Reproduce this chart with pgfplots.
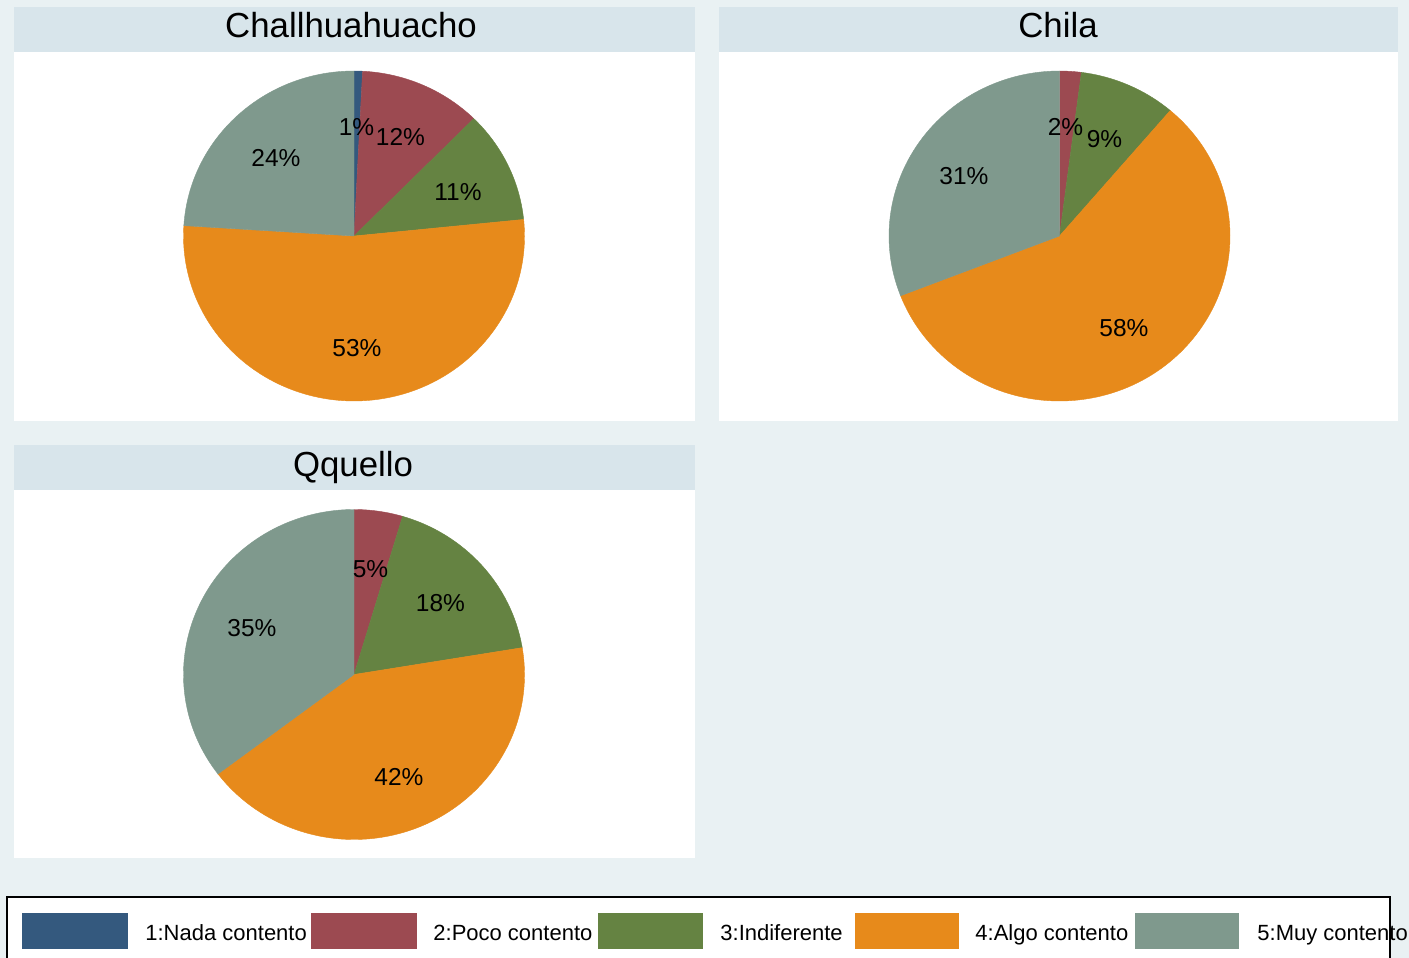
\documentclass[border=0pt]{standalone}
\usepackage{pgfplots}
\pgfplotsset{compat=1.18}
\usepackage{fontspec}
\setmainfont{Liberation Sans}

\definecolor{nada}{RGB}{52,89,126}
\definecolor{poco}{RGB}{156,74,81}
\definecolor{indif}{RGB}{101,131,66}
\definecolor{algo}{RGB}{231,138,27}
\definecolor{muy}{RGB}{127,153,141}
\definecolor{bg}{RGB}{233,241,243}
\definecolor{band}{RGB}{216,229,235}

% one slice: centre x, centre y, cumulative % at start, cumulative % at end, colour
\newcommand\slice[5]{%
  \fill[#5, draw=#5, line width=0.2pt] (axis cs:#1,#2) -- ++({90-3.6*(#3)}:85.25pt and 82.5pt)
    arc[start angle={90-3.6*(#3)}, end angle={90-3.6*(#4)}, x radius=85.25pt, y radius=82.5pt] -- cycle;}
\newcommand\lab[3]{\node[font=\fontsize{12.25}{14}\selectfont, inner sep=0pt] at (axis cs:#1,#2) {#3};}

\begin{document}
\begin{tikzpicture}
\begin{axis}[
    x=0.5pt, y=0.5pt, y dir=reverse,
    xmin=0, xmax=1409, ymin=0, ymax=958,
    scale only axis, hide axis, clip=false]

% background and panels
\fill[bg] (axis cs:0,0) rectangle (axis cs:1409,958);
\fill[band] (axis cs:14,7) rectangle (axis cs:695,52);
\fill[white] (axis cs:14,52) rectangle (axis cs:695,421);
\fill[band] (axis cs:719,7) rectangle (axis cs:1398,52);
\fill[white] (axis cs:719,52) rectangle (axis cs:1398,421);
\fill[band] (axis cs:14,445) rectangle (axis cs:695,490);
\fill[white] (axis cs:14,490) rectangle (axis cs:695,858);

\node[font=\fontsize{17.4}{20}\selectfont, anchor=base] at (axis cs:351,38) {Challhuahuacho};
\node[font=\fontsize{17.4}{20}\selectfont, anchor=base] at (axis cs:1058,38) {Chila};
\node[font=\fontsize{17.4}{20}\selectfont, anchor=base] at (axis cs:353,476) {Qquello};

% Challhuahuacho: 0.8, 11.6, 11.0, 52.6, 24.0
\slice{354}{236}{0}{0.8}{nada}
\slice{354}{236}{0.8}{12.4}{poco}
\slice{354}{236}{12.4}{23.4}{indif}
\slice{354}{236}{23.4}{76.0}{algo}
\slice{354}{236}{76.0}{100}{muy}
\lab{356.5}{127.5}{1\%}
\lab{400.5}{137}{12\%}
\lab{458}{192}{11\%}
\lab{357}{348}{53\%}
\lab{276}{158}{24\%}

% Chila: 0, 2.05, 9.2, 57.85, 30.9
\slice{1059.5}{236}{0}{2.05}{poco}
\slice{1059.5}{236}{2.05}{11.25}{indif}
\slice{1059.5}{236}{11.25}{69.1}{algo}
\slice{1059.5}{236}{69.1}{100}{muy}
\lab{1065.5}{127.5}{2\%}
\lab{1104.5}{139}{9\%}
\lab{1124}{328}{58\%}
\lab{964}{176}{31\%}

% Qquello: 0, 4.6, 17.8, 42.3, 35.3
\slice{354}{674.5}{0}{4.6}{poco}
\slice{354}{674.5}{4.6}{22.4}{indif}
\slice{354}{674.5}{22.4}{64.7}{algo}
\slice{354}{674.5}{64.7}{100}{muy}
\lab{370.5}{569.5}{5\%}
\lab{440.5}{603.5}{18\%}
\lab{399}{777}{42\%}
\lab{252}{628}{35\%}

% legend
\draw[black, line width=1pt, fill=white] (axis cs:7,897) rectangle (axis cs:1390,970);
\fill[nada] (axis cs:22,913) rectangle (axis cs:128,949);
\fill[poco] (axis cs:311,913) rectangle (axis cs:417,949);
\fill[indif] (axis cs:598,913) rectangle (axis cs:703,949);
\fill[algo] (axis cs:855,913) rectangle (axis cs:959,949);
\fill[muy] (axis cs:1135,913) rectangle (axis cs:1239,949);
\node[font=\fontsize{11}{13}\selectfont, anchor=base west, inner sep=0pt] at (axis cs:145,940) {1:Nada contento};
\node[font=\fontsize{11}{13}\selectfont, anchor=base west, inner sep=0pt] at (axis cs:433,940) {2:Poco contento};
\node[font=\fontsize{11}{13}\selectfont, anchor=base west, inner sep=0pt] at (axis cs:720,940) {3:Indiferente};
\node[font=\fontsize{11}{13}\selectfont, anchor=base west, inner sep=0pt] at (axis cs:975,940) {4:Algo contento};
\node[font=\fontsize{11}{13}\selectfont, anchor=base west, inner sep=0pt] at (axis cs:1257,940) {5:Muy contento};
\end{axis}
\pgfresetboundingbox
\path (current axis.south west) rectangle (current axis.north east);
\end{tikzpicture}
\end{document}
